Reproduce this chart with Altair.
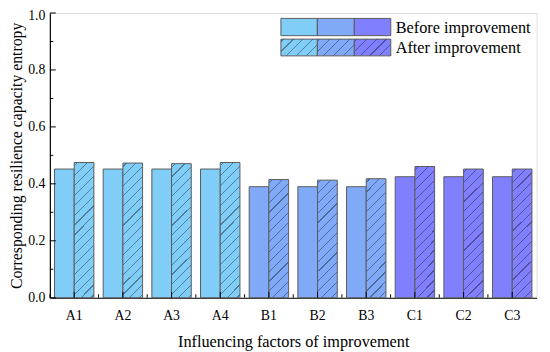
import altair as alt
import pandas as pd

categories = ["A1", "A2", "A3", "A4", "B1", "B2", "B3", "C1", "C2", "C3"]
groups = ["A", "A", "A", "A", "B", "B", "B", "C", "C", "C"]
before = [0.452, 0.452, 0.452, 0.452, 0.390, 0.390, 0.390, 0.425, 0.425, 0.425]
after = [0.475, 0.473, 0.471, 0.475, 0.415, 0.413, 0.418, 0.461, 0.452, 0.452]
phases = ["Before improvement", "After improvement"]
y_major = [0.0, 0.2, 0.4, 0.6, 0.8, 1.0]
y_minor = [0.1, 0.3, 0.5, 0.7, 0.9]

group_colors = {"A": "#80cdf8", "B": "#80aaf8", "C": "#8080ff"}
hatch_colors = {"A": "#4f7f9c", "B": "#4f6a9c", "C": "#50509e"}

FONT = "Liberation Serif"
W, H = 494, 289
EDGE = "#5a5a5a"
INK = "#000000"

rows = []
for c, g, b, a in zip(categories, groups, before, after):
    rows.append({"cat": c, "group": g, "phase": phases[0], "value": b})
    rows.append({"cat": c, "group": g, "phase": phases[1], "value": a})
df = pd.DataFrame(rows)
ticks_major = pd.DataFrame({"value": y_major})
ticks_minor = pd.DataFrame({"value": y_minor})
cats_df = pd.DataFrame({"cat": categories})


def hatch(fill, line, bw, bh, spacing=10.0, lw=1.2, phase=3.0):
    total = bw + bh
    k = total / (bw * bw + bh * bh)
    stops = [alt.GradientStop(offset=0, color=fill)]
    pos = phase
    while pos + lw < total:
        a = pos / total
        b = (pos + lw) / total
        stops += [
            alt.GradientStop(offset=a, color=fill),
            alt.GradientStop(offset=a, color=line),
            alt.GradientStop(offset=b, color=line),
            alt.GradientStop(offset=b, color=fill),
        ]
        pos += spacing
    stops.append(alt.GradientStop(offset=1, color=fill))
    return alt.LinearGradient(gradient="linear", stops=stops,
                              x1=0, y1=0, x2=bw * k, y2=bh * k)


x_axis = alt.Axis(title="Influencing factors of improvement",
                  labelAngle=0, tickSize=0, labelPadding=11,
                  labelFontSize=14, titleFontSize=16.5,
                  titleFont=FONT, labelFont=FONT,
                  titleFontWeight="normal", titlePadding=11,
                  domainColor=INK, domainWidth=1.2,
                  labelColor=INK, titleColor=INK, grid=False)
y_axis = alt.Axis(title="Corresponding resilience capacity entropy",
                  values=y_major, format=".1f", tickSize=0,
                  labelPadding=5, labelFontSize=14, titleFontSize=16,
                  labelOffset=alt.ExprRef("datum.value == 1 ? 3 : 0"),
                  titleFont=FONT, labelFont=FONT, titleFontWeight="normal",
                  titlePadding=3, grid=False,
                  domainColor=INK, domainWidth=1.2,
                  labelColor=INK, titleColor=INK)
x_scale = alt.Scale(paddingInner=0, paddingOuter=0)
y_scale = alt.Scale(domain=[0, 1], nice=False, zero=True)


def X(**kw):
    return alt.X("cat:N", sort=categories, scale=x_scale, axis=x_axis, **kw)


def Y():
    return alt.Y("value:Q", scale=y_scale, axis=y_axis)


xoff = alt.XOffset("phase:N", sort=phases,
                   scale=alt.Scale(domain=phases, paddingOuter=0.235, paddingInner=0))

base = alt.Chart(df)

before_bars = base.transform_filter(alt.datum.phase == phases[0]).mark_bar(
    stroke=EDGE, strokeWidth=1
).encode(
    x=X(), xOffset=xoff, y=Y(),
    color=alt.Color("group:N", scale=alt.Scale(domain=["A", "B", "C"],
                                               range=[group_colors[g] for g in "ABC"]),
                    legend=None),
)

bar_w = 20
after_layers = []
for g in "ABC":
    vals = [a for a, gg in zip(after, groups) if gg == g]
    bh = sum(vals) / len(vals) * H
    after_layers.append(
        base.transform_filter((alt.datum.phase == phases[1]) & (alt.datum.group == g))
        .mark_bar(fill=hatch(group_colors[g], hatch_colors[g], bar_w, bh),
                  stroke=EDGE, strokeWidth=1)
        .encode(x=X(), xOffset=xoff, y=Y())
    )

# inward ticks
ymaj = alt.Chart(ticks_major).mark_rule(color=INK, strokeWidth=1).encode(
    y=Y(), x=alt.value(0), x2=alt.value(6))
ymin = alt.Chart(ticks_minor).mark_rule(color=INK, strokeWidth=1).encode(
    y=Y(), x=alt.value(0), x2=alt.value(3.5))
xmaj = alt.Chart(cats_df).mark_rule(color=INK, strokeWidth=1).encode(
    x=X(), y=alt.value(H - 6), y2=alt.value(H))
xmin = alt.Chart(cats_df).mark_rule(color=INK, strokeWidth=1).encode(
    x=X(bandPosition=0), y=alt.value(H - 3.5), y2=alt.value(H))

# legend (drawn inside the plot, top right)
one = alt.InlineData(values=[{}])
sw_x = [234.5, 271.5, 309.0, 346.0]
row_y = [(5.5, 23), (26.5, 43.5)]
legend_layers = []
for r, ph in enumerate(phases):
    for i, g in enumerate("ABC"):
        fill = group_colors[g] if r == 0 else hatch(group_colors[g], hatch_colors[g], 37, 17, spacing=10, phase=2)
        legend_layers.append(
            alt.Chart(one).mark_rect(fill=fill, stroke=EDGE, strokeWidth=1).encode(
                x=alt.value(sw_x[i]), x2=alt.value(sw_x[i + 1]),
                y=alt.value(row_y[r][0]), y2=alt.value(row_y[r][1]))
        )
    legend_layers.append(
        alt.Chart(one).mark_text(align="left", baseline="alphabetic", font=FONT,
                                 fontSize=16.5, color=INK).encode(
            x=alt.value(351), y=alt.value(row_y[r][1] - 3), text=alt.value(ph))
    )

chart = alt.layer(before_bars, *after_layers, ymaj, ymin, xmaj, xmin, *legend_layers).properties(
    width=W, height=H,
    autosize=alt.AutoSizeParams(type="none"),
    padding={"left": 42.5, "top": 2.5, "right": 5.5, "bottom": 52.5},
).configure_view(stroke=INK, strokeWidth=1.3).configure(background="white")

chart.save("out.html", embed_options={"renderer": "svg", "actions": False})
